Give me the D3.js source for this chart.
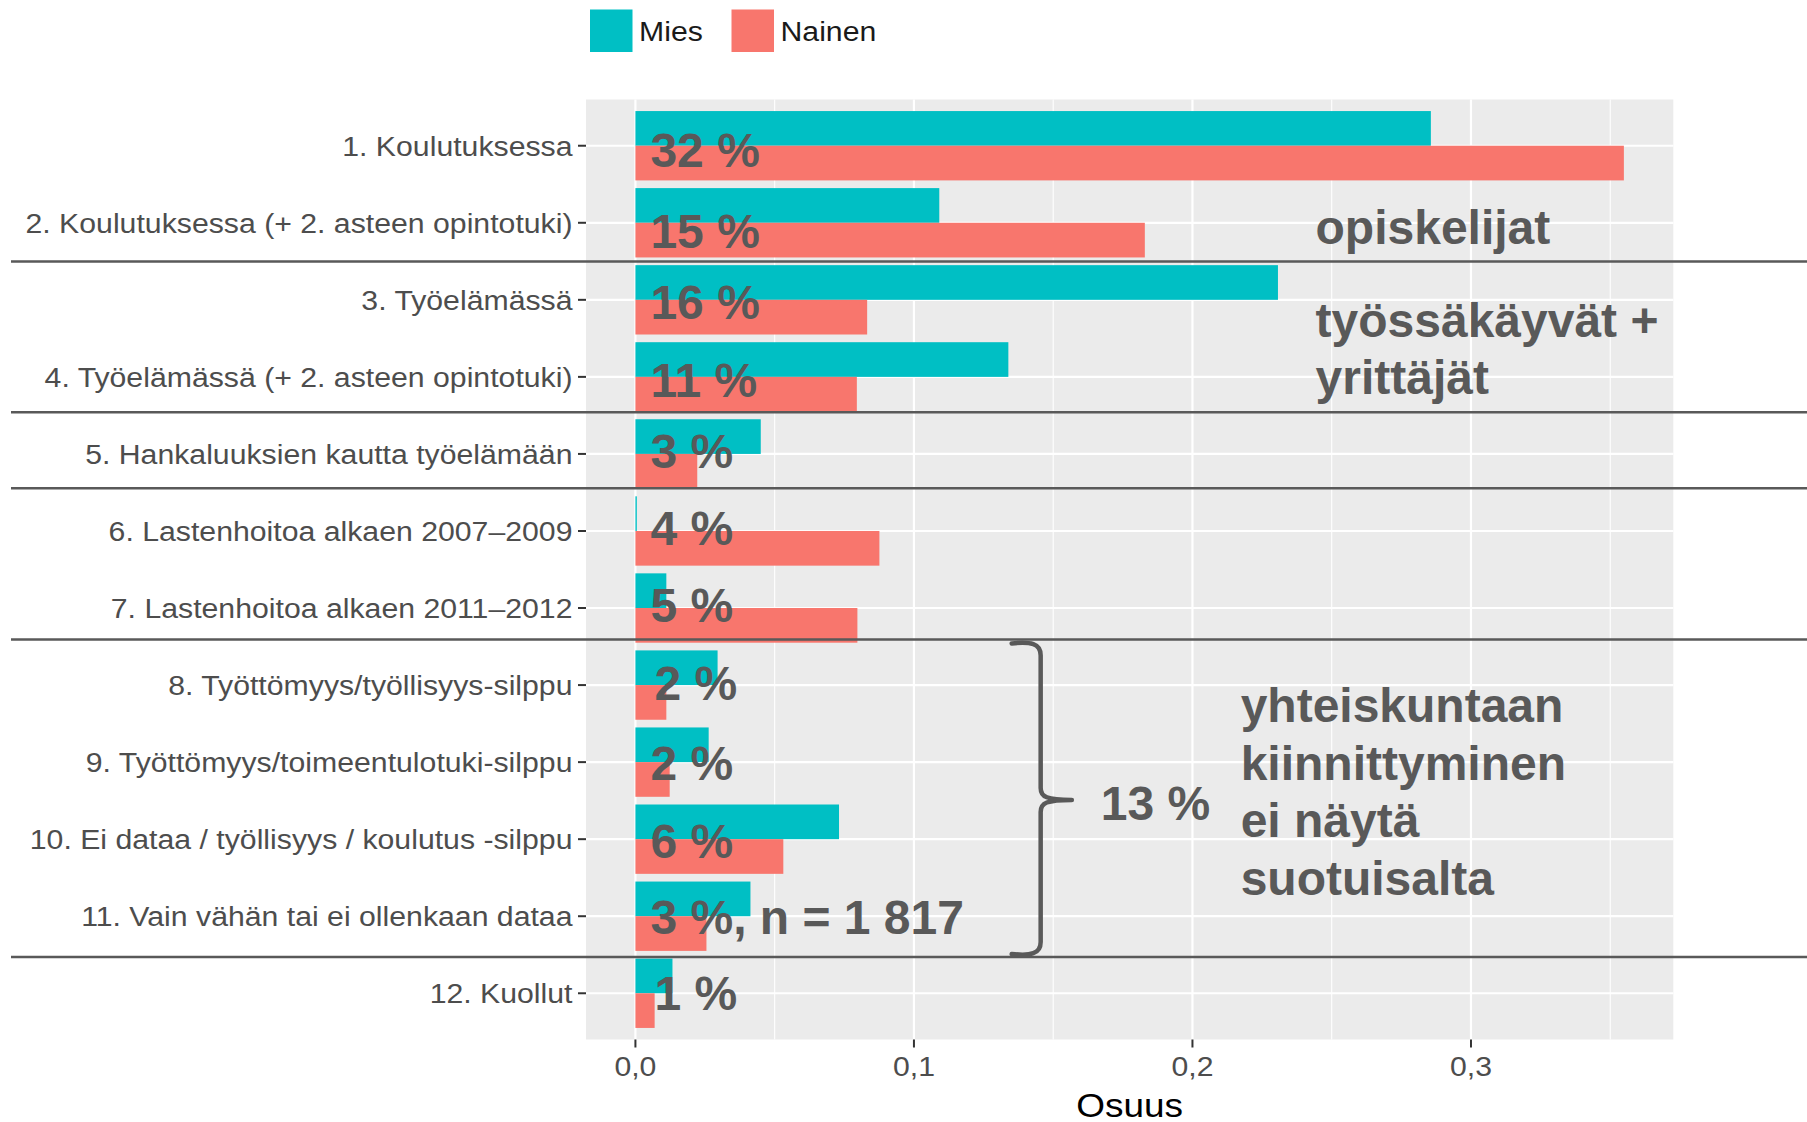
<!DOCTYPE html>
<html>
<head>
<meta charset="utf-8">
<script src="https://cdn.jsdelivr.net/npm/d3@7"></script>
<style>
  html, body { margin: 0; padding: 0; background: #ffffff; }
  svg { display: block; }
</style>
</head>
<body>
<svg id="chart" width="1807" height="1122"></svg>
<script>
// ---------------- data ----------------
const categories = [
  "1. Koulutuksessa",
  "2. Koulutuksessa (+ 2. asteen opintotuki)",
  "3. Työelämässä",
  "4. Työelämässä (+ 2. asteen opintotuki)",
  "5. Hankaluuksien kautta työelämään",
  "6. Lastenhoitoa alkaen 2007–2009",
  "7. Lastenhoitoa alkaen 2011–2012",
  "8. Työttömyys/työllisyys-silppu",
  "9. Työttömyys/toimeentulotuki-silppu",
  "10. Ei dataa / työllisyys / koulutus -silppu",
  "11. Vain vähän tai ei ollenkaan dataa",
  "12. Kuollut"
];
const seriesNames = ["Mies", "Nainen"];
const mies   = [0.2856, 0.1091, 0.2307, 0.1339, 0.0450, 0.0005, 0.0111, 0.0295, 0.0263, 0.0731, 0.0413, 0.0133];
const nainen = [0.3549, 0.1829, 0.0832, 0.0795, 0.0222, 0.0876, 0.0797, 0.0111, 0.0123, 0.0531, 0.0255, 0.0069];
const shareLabels = ["32 %", "15 %", "16 %", "11 %", "3 %", "4 %", "5 %", "2 %", "2 %", "6 %", "3 %, n = 1 817", "1 %"];
const xTickValues = [0, 0.1, 0.2, 0.3];
const xTickLabels = ["0,0", "0,1", "0,2", "0,3"];
const xTitle = "Osuus";
const groupLabels = [
  { lines: ["opiskelijat"] },
  { lines: ["työssäkäyvät +", "yrittäjät"] },
  { lines: ["13 %"] },
  { lines: ["yhteiskuntaan", "kiinnittyminen", "ei näytä", "suotuisalta"] }
];

// ---------------- layout / style ----------------
const W = 1807, H = 1122;
const panel = { left: 586, right: 1673.3, top: 99.5, bottom: 1039.5 };
const colors = { Mies: "#00BFC4", Nainen: "#F8766D" };
const annoColor = "#595959";
const stretch = 1.12;             // ggplot part is slightly stretched horizontally
const axisFont = 27, legendFont = 27, titleFont = 33, annoFont = 48;
// layout nudges for the hand-placed labels (pixel offsets relative to scales)
const labelDy = [21, 25, 18.7, 20, 13.7, 13.7, 13.8, 15, 17.8, 19, 17.5, 16.6];
const labelDx = [0, 0, 0, 0, 0, 0, 0, 4, 0, 0, 0, 4];
const separatorUnits = [1.502, 3.459, 4.446, 6.407, 10.53];   // in category steps from first category
const groupAnchors = [ {x: 0.2442, u: 1.276}, {x: 0.2442, u: 2.479}, {x: 0.1671, u: 8.748}, {x: 0.2173, u: 7.485} ];

const svg = d3.select("#chart");
svg.append("rect").attr("width", W).attr("height", H).attr("fill", "#ffffff");

// scales
const maxVal = d3.max(mies.concat(nainen));
const pad = 0.05 * maxVal;
const x = d3.scaleLinear().domain([-pad, maxVal + pad]).range([panel.left, panel.right]);
const y = d3.scalePoint().domain(categories).range([panel.top, panel.bottom]).padding(0.6);
const step = y.step();
const barH = 0.45 * step;
const yU = u => y(categories[0]) + u * step;

// panel background
svg.append("rect")
  .attr("x", panel.left).attr("y", panel.top)
  .attr("width", panel.right - panel.left).attr("height", panel.bottom - panel.top)
  .attr("fill", "#EBEBEB");

// minor grid
const minorTicks = [0.05, 0.15, 0.25, 0.35].filter(v => x(v) < panel.right);
svg.append("g").selectAll("line").data(minorTicks).join("line")
  .attr("x1", d => x(d)).attr("x2", d => x(d))
  .attr("y1", panel.top).attr("y2", panel.bottom)
  .attr("stroke", "#ffffff").attr("stroke-width", 1.1);
// major grid vertical
svg.append("g").selectAll("line").data(xTickValues).join("line")
  .attr("x1", d => x(d)).attr("x2", d => x(d))
  .attr("y1", panel.top).attr("y2", panel.bottom)
  .attr("stroke", "#ffffff").attr("stroke-width", 2.2);
// major grid horizontal
svg.append("g").selectAll("line").data(categories).join("line")
  .attr("x1", panel.left).attr("x2", panel.right)
  .attr("y1", d => y(d)).attr("y2", d => y(d))
  .attr("stroke", "#ffffff").attr("stroke-width", 2.2);

// bars
const rows = categories.map((c, i) => ({ c, i, Mies: mies[i], Nainen: nainen[i] }));
const gBars = svg.append("g");
seriesNames.forEach((s, si) => {
  gBars.selectAll("rect." + s).data(rows).join("rect")
    .attr("class", s)
    .attr("x", x(0))
    .attr("y", d => y(d.c) - barH + si * barH)
    .attr("width", d => Math.max(0, x(d[s]) - x(0)))
    .attr("height", barH)
    .attr("fill", colors[s]);
});

// y axis ticks and labels
const gy = svg.append("g");
gy.selectAll("line").data(categories).join("line")
  .attr("x1", panel.left - 8).attr("x2", panel.left)
  .attr("y1", d => y(d)).attr("y2", d => y(d))
  .attr("stroke", "#333333").attr("stroke-width", 2);
gy.selectAll("text").data(categories).join("text")
  .attr("transform", d => `translate(${panel.left - 13.5},${y(d)}) scale(${stretch},1)`)
  .attr("text-anchor", "end")
  .attr("dy", "0.37em")
  .attr("font-family", "'Liberation Sans', Arial, sans-serif")
  .attr("font-size", axisFont)
  .attr("fill", "#4D4D4D")
  .text(d => d);

// x axis ticks and labels
const gx = svg.append("g");
gx.selectAll("line").data(xTickValues).join("line")
  .attr("x1", d => x(d)).attr("x2", d => x(d))
  .attr("y1", panel.bottom).attr("y2", panel.bottom + 8)
  .attr("stroke", "#333333").attr("stroke-width", 2);
gx.selectAll("text").data(xTickValues).join("text")
  .attr("transform", d => `translate(${x(d)},${panel.bottom + 36}) scale(${stretch},1)`)
  .attr("text-anchor", "middle")
  .attr("font-family", "'Liberation Sans', Arial, sans-serif")
  .attr("font-size", axisFont)
  .attr("fill", "#4D4D4D")
  .text((d, i) => xTickLabels[i]);

// x title
svg.append("text")
  .attr("transform", `translate(${(panel.left + panel.right) / 2},${panel.bottom + 77}) scale(${stretch},1)`)
  .attr("text-anchor", "middle")
  .attr("font-family", "'Liberation Sans', Arial, sans-serif")
  .attr("font-size", titleFont)
  .attr("fill", "#000000")
  .text(xTitle);

// legend
const legend = svg.append("g");
const legendX = [590, 731.5];
seriesNames.forEach((s, i) => {
  legend.append("rect")
    .attr("x", legendX[i]).attr("y", 9.5)
    .attr("width", 42.5).attr("height", 42.5)
    .attr("fill", colors[s]);
  legend.append("text")
    .attr("transform", `translate(${legendX[i] + 49},${32}) scale(${stretch},1)`)
    .attr("dy", "0.35em")
    .attr("font-family", "'Liberation Sans', Arial, sans-serif")
    .attr("font-size", legendFont)
    .attr("fill", "#1a1a1a")
    .text(s);
});

// separator lines
svg.append("g").selectAll("line").data(separatorUnits).join("line")
  .attr("x1", 11).attr("x2", W)
  .attr("y1", d => yU(d)).attr("y2", d => yU(d))
  .attr("stroke", annoColor).attr("stroke-width", 2.5);

// share labels
svg.append("g").selectAll("text").data(shareLabels).join("text")
  .attr("x", (d, i) => x(0) + 15 + labelDx[i])
  .attr("y", (d, i) => y(categories[i]) + labelDy[i])
  .attr("font-family", "'Liberation Sans', Arial, sans-serif")
  .attr("font-weight", "bold")
  .attr("font-size", annoFont)
  .attr("fill", annoColor)
  .text(d => d);

// group labels
groupLabels.forEach((g, gi) => {
  const a = groupAnchors[gi];
  const t = svg.append("text")
    .attr("x", x(a.x)).attr("y", yU(a.u))
    .attr("font-family", "'Liberation Sans', Arial, sans-serif")
    .attr("font-weight", "bold")
    .attr("font-size", annoFont)
    .attr("fill", annoColor);
  g.lines.forEach((ln, li) => {
    t.append("tspan").attr("x", x(a.x)).attr("dy", li === 0 ? 0 : "1.195em").text(ln);
  });
});

// curly brace
const bx = x(0.1455), bTip = x(0.1567), bHook = x(0.1351);
const bTop = yU(6.46), bBot = yU(10.49), bMid = yU(8.49);
const c = 12;
const bracePath = d3.path();
bracePath.moveTo(bHook, bTop);
bracePath.bezierCurveTo(bx - 10, bTop - 2, bx, bTop, bx, bTop + c);
bracePath.lineTo(bx, bMid - c);
bracePath.bezierCurveTo(bx, bMid - 3, bx + 6, bMid, bTip, bMid);
bracePath.moveTo(bTip, bMid);
bracePath.bezierCurveTo(bx + 6, bMid, bx, bMid + 3, bx, bMid + c);
bracePath.lineTo(bx, bBot - c);
bracePath.bezierCurveTo(bx, bBot, bx - 10, bBot + 2, bHook, bBot);
svg.append("path")
  .attr("d", bracePath.toString())
  .attr("fill", "none")
  .attr("stroke", annoColor)
  .attr("stroke-width", 4.5)
  .attr("stroke-linecap", "round")
  .attr("stroke-linejoin", "round");
</script>
</body>
</html>
